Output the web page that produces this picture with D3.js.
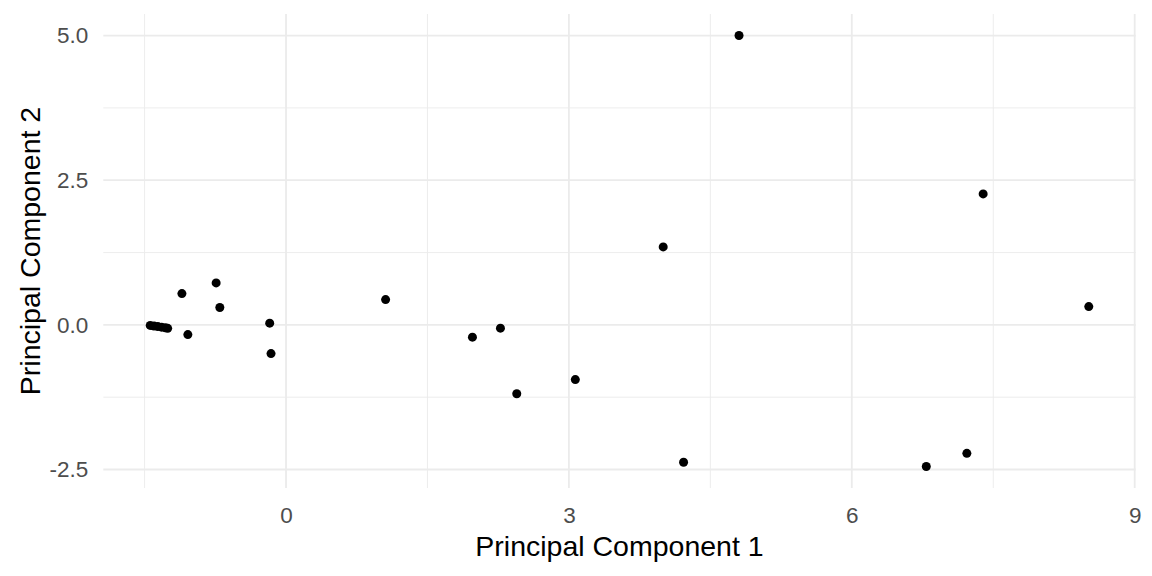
<!DOCTYPE html>
<html>
<head>
<meta charset="utf-8">
<script src="https://cdn.jsdelivr.net/npm/d3@7"></script>
<style>
  body { margin: 0; background: #fff; }
  text { font-family: "Liberation Sans", Arial, sans-serif; }
</style>
</head>
<body>
<div id="chart"></div>
<script>
// PCA scores
var pc1 = [-1.44, -1.40, -1.36, -1.32, -1.28, -1.255, -1.104, -1.041, -0.741, -0.702,
  -0.173, -0.159, 1.056, 1.977, 2.274, 2.447, 3.068, 4.0, 4.216, 4.804,
  6.79, 7.22, 7.393, 8.513];
var pc2 = [-0.01, -0.02, -0.03, -0.04, -0.05, -0.06, 0.54, -0.168, 0.725, 0.30,
  0.03, -0.496, 0.437, -0.212, -0.057, -1.19, -0.946, 1.347, -2.374, 5.0,
  -2.447, -2.22, 2.263, 0.316];
var xMajor = [0, 3, 6, 9];
var xMinor = [-1.5, 1.5, 4.5, 7.5];
var yMajor = [-2.5, 0, 2.5, 5];
var yMinor = [-1.25, 1.25, 3.75];
var xLabel = 'Principal Component 1';
var yLabel = 'Principal Component 2';

var W = 1152, H = 576;
var panel = {left: 103.3, right: 1135.7, top: 14, bottom: 488};

// plain hyphen for negatives, like R does
var locale = d3.formatLocale({decimal: '.', thousands: ',', grouping: [3], currency: ['', ''], minus: '-'});

// ggplot style 5% expansion
function expand(ext){
  var s = ext[1] - ext[0];
  return [ext[0] - 0.05*s, ext[1] + 0.05*s];
}

var points = pc1.map(function(d, i){ return {x: d, y: pc2[i]}; });

var x = d3.scaleLinear()
  .domain(expand(d3.extent(pc1)))
  .range([panel.left, panel.right]);
var y = d3.scaleLinear()
  .domain(expand(d3.extent(pc2)))
  .range([panel.bottom, panel.top]);

var svg = d3.select('#chart')
  .append('svg')
  .attr('width', W)
  .attr('height', H);

var grid = svg.append('g').attr('class', 'grid');

grid.selectAll('line.xminor')
  .data(xMinor)
  .enter()
    .append('line')
    .attr('x1', function(d){return x(d);})
    .attr('x2', function(d){return x(d);})
    .attr('y1', panel.top)
    .attr('y2', panel.bottom)
    .attr('stroke', '#ebebeb')
    .attr('stroke-width', 0.9);

grid.selectAll('line.yminor')
  .data(yMinor)
  .enter()
    .append('line')
    .attr('y1', function(d){return y(d);})
    .attr('y2', function(d){return y(d);})
    .attr('x1', panel.left)
    .attr('x2', panel.right)
    .attr('stroke', '#ebebeb')
    .attr('stroke-width', 0.9);

grid.selectAll('line.xmajor')
  .data(xMajor)
  .enter()
    .append('line')
    .attr('x1', function(d){return x(d);})
    .attr('x2', function(d){return x(d);})
    .attr('y1', panel.top)
    .attr('y2', panel.bottom)
    .attr('stroke', '#ebebeb')
    .attr('stroke-width', 1.8);

grid.selectAll('line.ymajor')
  .data(yMajor)
  .enter()
    .append('line')
    .attr('y1', function(d){return y(d);})
    .attr('y2', function(d){return y(d);})
    .attr('x1', panel.left)
    .attr('x2', panel.right)
    .attr('stroke', '#ebebeb')
    .attr('stroke-width', 1.8);

// axes without lines or ticks (theme_minimal)
var xAxis = svg.append('g')
  .attr('transform', 'translate(0,' + panel.bottom + ')')
  .call(d3.axisBottom(x).tickValues(xMajor).tickSize(0).tickPadding(19).tickFormat(locale.format('d')));
var yAxis = svg.append('g')
  .attr('transform', 'translate(' + panel.left + ',0)')
  .call(d3.axisLeft(y).tickValues(yMajor).tickSize(0).tickPadding(15).tickFormat(locale.format('.1f')));

[xAxis, yAxis].forEach(function(a){
  a.select('.domain').remove();
  a.selectAll('text')
    .attr('fill', '#4d4d4d')
    .attr('font-size', 22.5)
    .attr('font-family', '"Liberation Sans", Arial, sans-serif');
});

svg.selectAll('circle.pt')
  .data(points)
  .enter()
    .append('circle')
    .classed('pt', true)
    .attr('cx', function(d){return x(d.x);})
    .attr('cy', function(d){return y(d.y);})
    .attr('r', 4.5)
    .attr('fill', '#000');

svg.append('text')
  .attr('x', (panel.left + panel.right) / 2)
  .attr('y', 556)
  .attr('text-anchor', 'middle')
  .attr('font-size', 28.5)
  .attr('fill', '#000')
  .text(xLabel);

svg.append('text')
  .attr('transform', 'translate(40,' + (panel.top + panel.bottom) / 2 + ') rotate(-90)')
  .attr('text-anchor', 'middle')
  .attr('font-size', 28.5)
  .attr('fill', '#000')
  .text(yLabel);
</script>
</body>
</html>
